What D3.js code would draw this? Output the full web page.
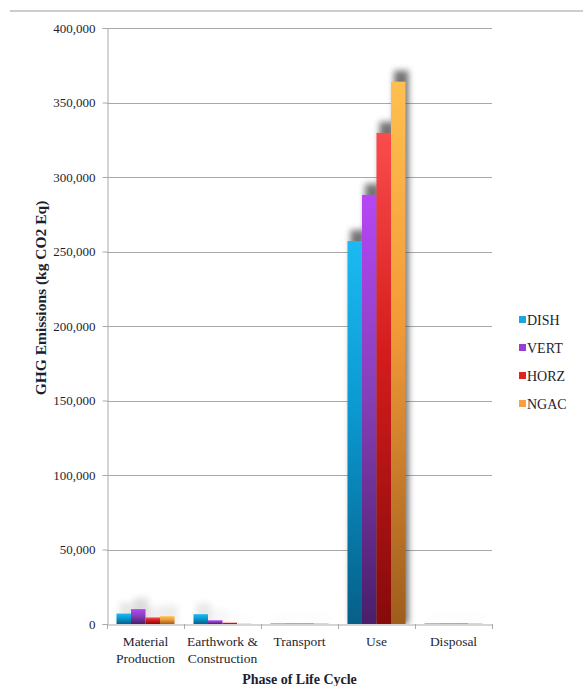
<!DOCTYPE html>
<html>
<head>
<meta charset="utf-8">
<script src="https://cdn.jsdelivr.net/npm/d3@7"></script>
<style>
  html, body { margin: 0; padding: 0; background: #fff; }
  svg { display: block; }
  text { font-family: "Liberation Serif", "Times New Roman", serif; fill: #1e1e30; }
</style>
</head>
<body>
<svg id="chart" width="583" height="686"></svg>
<script>
// Life-cycle phases and GHG emissions per configuration (kg CO2 Eq)
const phases = ["Material Production", "Earthwork & Construction", "Transport", "Use", "Disposal"];
const phaseLines = [["Material", "Production"], ["Earthwork &", "Construction"], ["Transport"], ["Use"], ["Disposal"]];
const seriesNames = ["DISH", "VERT", "HORZ", "NGAC"];
const DISH = [7000, 6600, 400, 257000, 400];
const VERT = [10000, 2500, 400, 288000, 400];
const HORZ = [4400, 900, 400, 329600, 400];
const NGAC = [5200, 300, 400, 364000, 400];
const yTicks = [0, 50000, 100000, 150000, 200000, 250000, 300000, 350000, 400000];

const seriesValues = { DISH, VERT, HORZ, NGAC };
const seriesColors = {
  DISH: ["#1cbaf2", "#0a98d0", "#065f88"],
  VERT: ["#b646f6", "#8840ba", "#4a1e6a"],
  HORZ: ["#fb4c4c", "#d41c1c", "#860a0a"],
  NGAC: ["#ffc050", "#f29a38", "#9e5e1c"]
};
const legendColors = { DISH: "#1aa6e0", VERT: "#9a3cd6", HORZ: "#e02222", NGAC: "#f8a040" };

const svg = d3.select("#chart");
const m = { left: 107, right: 492, top: 28, bottom: 624 };

const x0 = d3.scaleBand().domain(phases).range([m.left, m.right]).padding(0);
const x1 = d3.scaleBand().domain(seriesNames).range([9.5, x0.bandwidth() - 9.5]).padding(0);
const y = d3.scaleLinear().domain([0, 400000]).range([m.bottom, m.top]);

const defs = svg.append("defs");
seriesNames.forEach(s => {
  const g = defs.append("linearGradient").attr("id", "grad-" + s)
    .attr("x1", 0).attr("y1", 0).attr("x2", 0).attr("y2", 1);
  const c = seriesColors[s];
  g.append("stop").attr("offset", "0%").attr("stop-color", c[0]);
  g.append("stop").attr("offset", "45%").attr("stop-color", c[1]);
  g.append("stop").attr("offset", "100%").attr("stop-color", c[2]);
});
const blur = defs.append("filter").attr("id", "shadow-blur")
  .attr("x", "-50%").attr("y", "-50%").attr("width", "200%").attr("height", "200%");
blur.append("feGaussianBlur").attr("stdDeviation", 3.2);
defs.append("clipPath").attr("id", "plot-clip").append("rect")
  .attr("x", m.left).attr("y", 0).attr("width", 583 - m.left).attr("height", m.bottom);

// top rule
svg.append("line").attr("x1", 10).attr("x2", 583).attr("y1", 11).attr("y2", 11)
  .attr("stroke", "#bdbdbd").attr("stroke-width", 1.5);

// horizontal gridlines
svg.append("g").selectAll("line").data(yTicks.filter(t => t > 0)).join("line")
  .attr("x1", m.left).attr("x2", m.right)
  .attr("y1", d => Math.round(y(d)) + 0.5).attr("y2", d => Math.round(y(d)) + 0.5)
  .attr("stroke", "#a8a8a8").attr("stroke-width", 1);

// y axis
const yAxis = d3.axisLeft(y).tickValues(yTicks).tickSize(5).tickPadding(7)
  .tickFormat(d3.format(","));
const gy = svg.append("g").attr("transform", `translate(${m.left + 0.5},0)`).call(yAxis);
gy.select(".domain").attr("stroke", "#aaaaaa");
gy.selectAll(".tick line").attr("stroke", "#aaaaaa");
gy.selectAll(".tick text").attr("font-size", 13).attr("font-family", "Liberation Serif, serif").attr("fill", "#1e1e30");

const cells = i => seriesNames.map(s => ({ s, v: seriesValues[s][i] }));

// soft shadows behind the bars, fading out on short bars
const shadowGroups = svg.append("g").attr("clip-path", "url(#plot-clip)")
  .selectAll("g").data(phases).join("g")
  .attr("transform", d => `translate(${x0(d)},0)`);
shadowGroups.selectAll("rect").data((p, i) => cells(i)).join("rect")
  .attr("x", d => x1(d.s) + 3)
  .attr("y", d => y(d.v) - 11)
  .attr("width", x1.bandwidth())
  .attr("height", d => m.bottom - y(d.v) + 11)
  .attr("fill", "#444")
  .attr("opacity", d => 0.75 * Math.min(1, (m.bottom - y(d.v)) / 60))
  .attr("filter", "url(#shadow-blur)");

// gradient-filled bars
const groups = svg.append("g").selectAll("g").data(phases).join("g")
  .attr("transform", d => `translate(${x0(d)},0)`);
groups.selectAll("rect").data((p, i) => cells(i)).join("rect")
  .attr("x", d => x1(d.s))
  .attr("y", d => y(d.v))
  .attr("width", x1.bandwidth())
  .attr("height", d => m.bottom - y(d.v))
  .attr("fill", d => `url(#grad-${d.s})`);

// x axis
const xAxis = d3.axisBottom(x0).tickSize(0).tickFormat("");
const gx = svg.append("g").attr("transform", `translate(0,${m.bottom + 0.5})`).call(xAxis);
gx.select(".domain").attr("stroke", "#aaaaaa");
gx.selectAll(".tick").remove();
const bounds = phases.map(p => x0(p)).concat([m.right]);
svg.append("g").selectAll("line").data(bounds).join("line")
  .attr("x1", d => d + 0.5).attr("x2", d => d + 0.5)
  .attr("y1", m.bottom).attr("y2", m.bottom + 5)
  .attr("stroke", "#aaaaaa");

// category labels
const lab = svg.append("g").selectAll("text").data(phases).join("text")
  .attr("text-anchor", "middle").attr("font-size", 13.5)
  .attr("x", d => x0(d) + x0.bandwidth() / 2)
  .attr("y", 646);
lab.selectAll("tspan").data((d, i) => phaseLines[i]).join("tspan")
  .attr("x", function () { return d3.select(this.parentNode).attr("x"); })
  .attr("dy", (d, i) => i === 0 ? 0 : 17)
  .text(d => d);

// axis titles
svg.append("text").attr("x", (m.left + m.right) / 2).attr("y", 684)
  .attr("text-anchor", "middle").attr("font-size", 14).attr("font-weight", "bold")
  .text("Phase of Life Cycle");
svg.append("text").attr("transform", "translate(46,298) rotate(-90)")
  .attr("text-anchor", "middle").attr("font-size", 15.5).attr("font-weight", "bold")
  .text("GHG Emissions (kg CO2 Eq)");

// legend
const legend = svg.append("g").selectAll("g").data(seriesNames).join("g")
  .attr("transform", (d, i) => `translate(519,${320 + i * 28})`);
legend.append("rect").attr("x", 0).attr("y", -4).attr("width", 7).attr("height", 7)
  .attr("fill", d => legendColors[d]);
legend.append("text").attr("x", 8).attr("y", 5).attr("font-size", 14).text(d => d);
</script>
</body>
</html>
